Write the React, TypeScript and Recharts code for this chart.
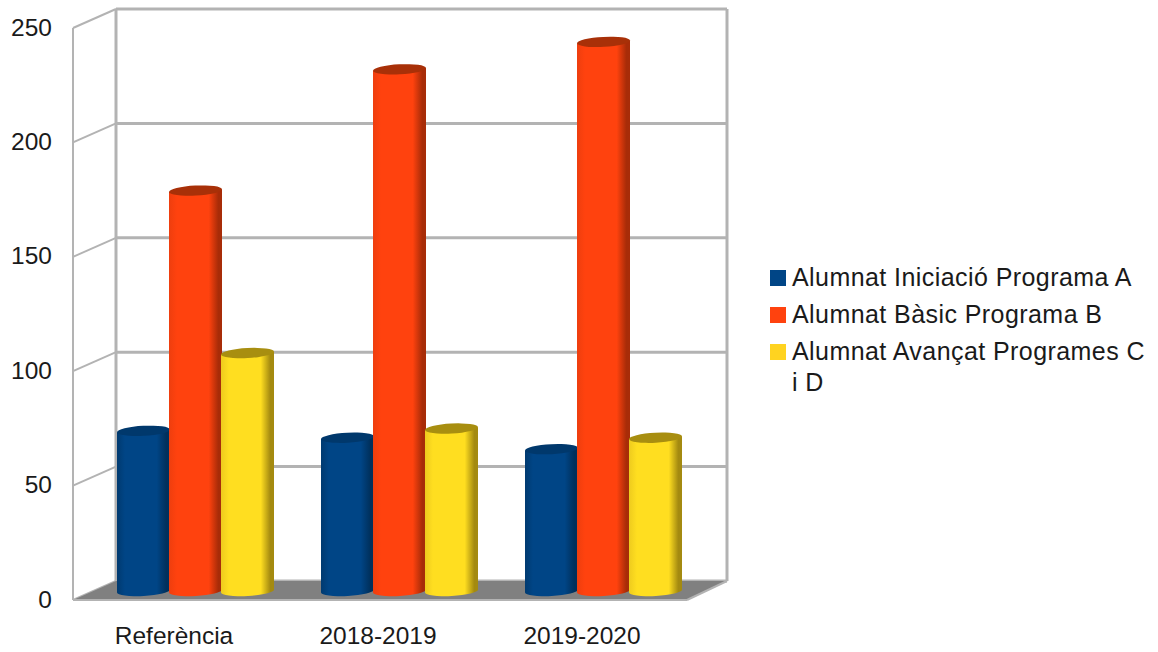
import { BarChart, Bar, XAxis, YAxis, CartesianGrid, Legend, ReferenceArea } from "recharts";

const CATEGORIES = ["Referència", "2018-2019", "2019-2020"];
const INICIACIO = [70, 67, 62];
const BASIC = [175, 228, 240];
const AVANCAT = [104, 71, 67];
const Y_TICKS = [0, 50, 100, 150, 200, 250];

const SERIES = [
  { key: "a", name: "Alumnat Iniciació Programa A", color: "#004586", side: "#003a70", edge: "#00305c", top: "#00386c" },
  { key: "b", name: "Alumnat Bàsic Programa B", color: "#ff420e", side: "#ee3e0e", edge: "#a82c08", top: "#a83008" },
  { key: "c", name: "Alumnat Avançat Programes C i D", color: "#ffde20", side: "#eecb1e", edge: "#a48a10", top: "#a88e10" },
];

const chartData = CATEGORIES.map((name, i) => ({
  name,
  a: INICIACIO[i],
  b: BASIC[i],
  c: AVANCAT[i],
}));

const FONT = "'Liberation Sans', Arial, sans-serif";
const WALL = "#b3b3b3";
// shift of the back wall from the front plane, and of the bars (they stand mid depth)
const BACK_X = 43;
const BACK_Y = -19;
const BAR_X = 20.5;
const BAR_Y = -9;

function GridLine(props: any) {
  const { x1, y1, x2 } = props;
  return (
    <g>
      <line x1={x1} y1={y1} x2={x1 + BACK_X} y2={y1 + BACK_Y} stroke={WALL} strokeWidth={2} />
      <line x1={x1 + BACK_X} y1={y1 + BACK_Y} x2={x2 + BACK_X - 1} y2={y1 + BACK_Y} stroke={WALL} strokeWidth={3} />
    </g>
  );
}

function Walls(props: any) {
  const { x, y, width, height } = props;
  const right = x + width;
  const bottom = y + height;
  const p = `${x},${bottom} ${x + BACK_X},${bottom + BACK_Y} ${right + BACK_X - 1},${bottom + BACK_Y} ${right + 2},${bottom}`;
  return (
    <g>
      <polygon points={p} fill="#808080" />
      <line x1={x} y1={y} x2={x} y2={bottom} stroke={WALL} strokeWidth={2} />
      <line x1={x} y1={bottom} x2={right + 2} y2={bottom} stroke={WALL} strokeWidth={2} />
      <line x1={right + 2} y1={bottom} x2={right + BACK_X - 1} y2={bottom + BACK_Y} stroke={WALL} strokeWidth={2} />
      <line x1={x + BACK_X} y1={y + BACK_Y} x2={x + BACK_X} y2={bottom + BACK_Y} stroke={WALL} strokeWidth={3} />
      <line x1={right + BACK_X - 1} y1={y + BACK_Y} x2={right + BACK_X - 1} y2={bottom + BACK_Y} stroke={WALL} strokeWidth={3} />
    </g>
  );
}

function Cylinder(props: any) {
  const { x, y, width, height, seriesKey, topColor } = props;
  const rx = width / 2 + 0.5;
  const ry = 5;
  const tilt = 1.4; // the ellipses lean up to the right
  const left = x + BAR_X - 0.5;
  const right = left + width + 1;
  const topY = y + BAR_Y;
  const baseY = y + height + BAR_Y;
  const body = `M ${left} ${topY + tilt} L ${left} ${baseY + tilt} A ${rx} ${ry} -3 0 0 ${right} ${baseY - tilt} L ${right} ${topY - tilt} Z`;
  return (
    <g>
      <path d={body} fill={`url(#cyl-${seriesKey})`} />
      <ellipse cx={(left + right) / 2} cy={topY} rx={rx} ry={ry} fill={topColor} transform={`rotate(-3 ${(left + right) / 2} ${topY})`} />
    </g>
  );
}

function LegendBox(props: any) {
  const { payload } = props;
  const swatch: Record<string, string> = { a: "#004586", b: "#ff420e", c: "#ffd320" };
  return (
    <div style={{ fontFamily: FONT, fontSize: 25, letterSpacing: 0.43, lineHeight: "31px", color: "#1a1a1a", textAlign: "left" }}>
      {(payload || []).map((item: any) => (
        <div key={item.dataKey} style={{ position: "relative", paddingLeft: 22, marginBottom: 6 }}>
          <span
            style={{
              position: "absolute",
              left: 0,
              top: 8,
              width: 16,
              height: 16,
              background: swatch[item.dataKey],
            }}
          />
          {item.value}
        </div>
      ))}
    </div>
  );
}

export default function App() {
  return (
    <div style={{ position: "absolute", left: 0, top: 0, width: 1158, height: 652, background: "#fff" }}>
      <BarChart
        width={1158}
        height={652}
        data={chartData}
        margin={{ top: 28, right: 473, bottom: 0, left: 0 }}
        barCategoryGap={24}
        barGap={0}
      >
        <defs>
          {SERIES.map((s) => (
            <linearGradient key={s.key} id={`cyl-${s.key}`} x1="0" y1="0" x2="1" y2="0">
              <stop offset="0" stopColor={s.side} />
              <stop offset="0.15" stopColor={s.color} />
              <stop offset="0.75" stopColor={s.color} />
              <stop offset="0.93" stopColor={s.edge} />
              <stop offset="1" stopColor={s.edge} />
            </linearGradient>
          ))}
        </defs>
        <ReferenceArea y1={0} y2={250} shape={<Walls />} fill="none" stroke="none" />
        <CartesianGrid vertical={false} horizontal={(p: any) => <GridLine key={p.key} {...p} />} />
        <XAxis
          dataKey="name"
          height={52}
          interval={0}
          axisLine={false}
          tickLine={false}
          tickSize={0}
          tickMargin={27}
          tick={{ fontFamily: FONT, fontSize: 24.5, fill: "#1a1a1a", dx: -1 }}
        />
        <YAxis
          width={73}
          domain={[0, 250]}
          ticks={Y_TICKS}
          axisLine={false}
          tickLine={false}
          tickSize={0}
          tickMargin={21}
          tick={{ fontFamily: FONT, fontSize: 24.5, fill: "#1a1a1a", dy: -1 }}
        />
        <Legend
          layout="horizontal"
          align="center"
          verticalAlign="middle"
          itemSorter={null}
          content={<LegendBox />}
          wrapperStyle={{ left: 770, top: 262, width: 380, right: "auto", bottom: "auto" }}
        />
        {SERIES.map((s) => (
          <Bar
            key={s.key}
            dataKey={s.key}
            name={s.name}
            fill={s.color}
            isAnimationActive={false}
            shape={<Cylinder seriesKey={s.key} topColor={s.top} />}
          />
        ))}
      </BarChart>
    </div>
  );
}
